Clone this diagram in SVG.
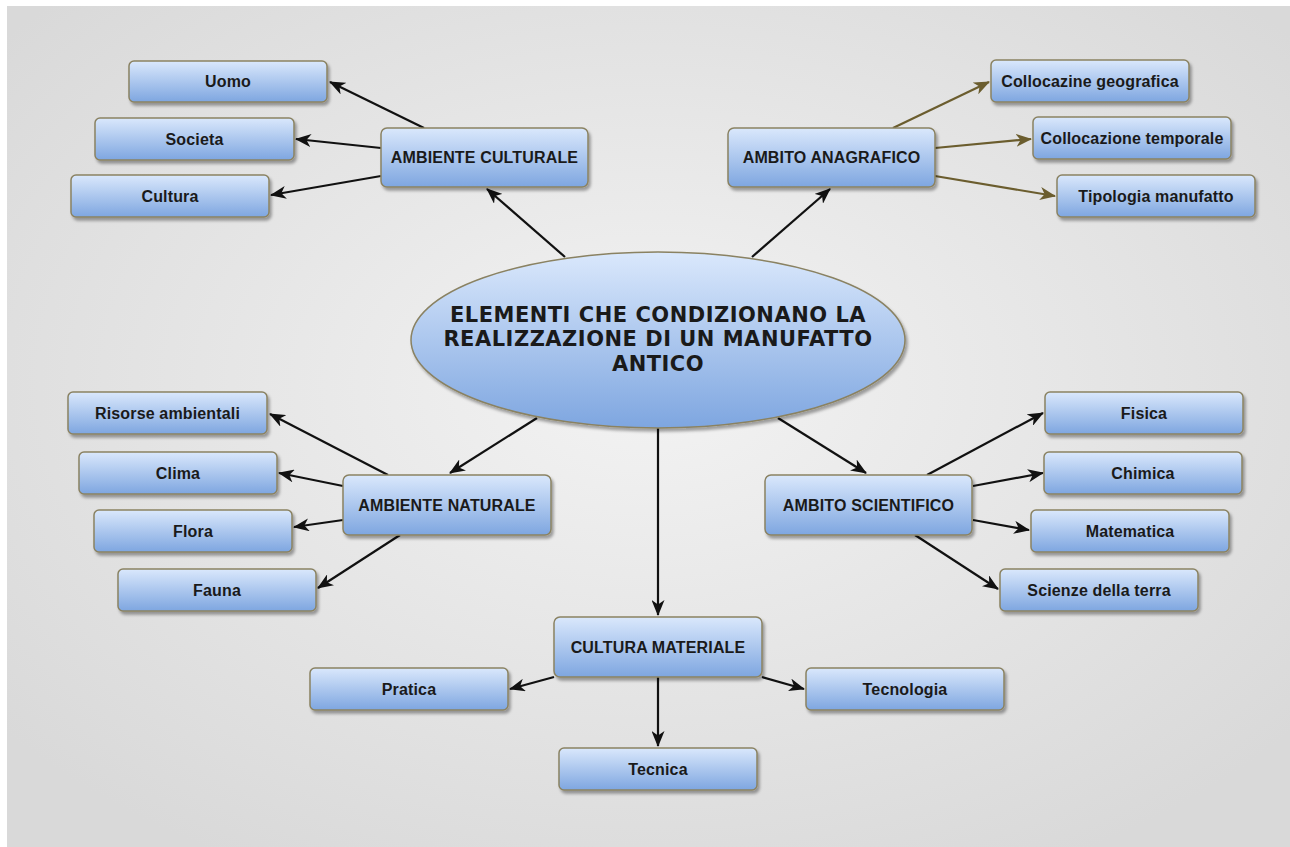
<svg xmlns="http://www.w3.org/2000/svg" width="1290" height="847" viewBox="0 0 1290 847">
<defs>
<radialGradient id="bg" cx="50%" cy="45%" r="65%">
<stop offset="0" stop-color="#f3f3f3"/>
<stop offset="1" stop-color="#d9d9d9"/>
</radialGradient>
<linearGradient id="nodeFill" x1="0" y1="0" x2="0" y2="1">
<stop offset="0" stop-color="#dae8fc"/>
<stop offset="1" stop-color="#7ea6e0"/>
</linearGradient>
<filter id="shadow" x="-10%" y="-20%" width="125%" height="150%">
<feDropShadow dx="2" dy="3" stdDeviation="1.5" flood-color="#000" flood-opacity="0.35"/>
</filter>
<marker id="arrBlack" markerUnits="userSpaceOnUse" viewBox="0 0 16 13" markerWidth="16" markerHeight="13" refX="15" refY="6.5" orient="auto">
<path d="M0,0 L16,6.5 L0,13 L4.5,6.5 z" fill="#111"/>
</marker>
<marker id="arrOlive" markerUnits="userSpaceOnUse" viewBox="0 0 16 13" markerWidth="16" markerHeight="13" refX="15" refY="6.5" orient="auto">
<path d="M0,0 L16,6.5 L0,13 L4.5,6.5 z" fill="#6b5d2e"/>
</marker>
</defs>
<style>
.node rect, .node ellipse { fill: url(#nodeFill); stroke: #8a8262; stroke-width: 1.5; filter: url(#shadow); }
.node text { font-family: "Liberation Sans", Arial, sans-serif; font-weight: bold; font-size: 16px; letter-spacing: 0.15px; fill: #1a1a1a; text-anchor: middle; }
.node text.main { font-family: "DejaVu Sans", Verdana, sans-serif; font-size: 21px; letter-spacing: 0.5px; }
.edge { fill: none; stroke: #111; stroke-width: 2.2; marker-end: url(#arrBlack); }
.edge.olive { stroke: #6b5d2e; marker-end: url(#arrOlive); }
</style>
<rect x="0" y="0" width="1290" height="847" fill="#ffffff"/>
<rect x="7" y="6" width="1283" height="841" fill="url(#bg)"/>

<g id="connectors">
<line class="edge" x1="565" y1="257" x2="487" y2="189"/>
<line class="edge" x1="752" y1="257" x2="830" y2="189"/>
<line class="edge" x1="424" y1="128" x2="330" y2="82"/>
<line class="edge" x1="381" y1="148" x2="296" y2="139"/>
<line class="edge" x1="381" y1="176" x2="271" y2="195"/>
<line class="edge olive" x1="893" y1="128" x2="989" y2="82"/>
<line class="edge olive" x1="935" y1="148" x2="1031" y2="139"/>
<line class="edge olive" x1="935" y1="176" x2="1055" y2="196"/>
<line class="edge" x1="537" y1="418" x2="450" y2="473"/>
<line class="edge" x1="388" y1="475" x2="270" y2="414"/>
<line class="edge" x1="343" y1="486" x2="279" y2="473"/>
<line class="edge" x1="343" y1="520" x2="294" y2="527"/>
<line class="edge" x1="400" y1="535" x2="318" y2="588"/>
<line class="edge" x1="778" y1="418" x2="866" y2="473"/>
<line class="edge" x1="927" y1="475" x2="1043" y2="413"/>
<line class="edge" x1="973" y1="486" x2="1043" y2="473"/>
<line class="edge" x1="973" y1="520" x2="1029" y2="530"/>
<line class="edge" x1="915" y1="535" x2="998" y2="589"/>
<line class="edge" x1="658" y1="428" x2="658" y2="615"/>
<line class="edge" x1="554" y1="677" x2="510" y2="689"/>
<line class="edge" x1="762" y1="677" x2="804" y2="689"/>
<line class="edge" x1="658" y1="677" x2="658" y2="746"/>
</g>

<g id="center" class="node">
<ellipse cx="658" cy="340" rx="247" ry="88"/>
<text class="main" x="658" y="322">ELEMENTI CHE CONDIZIONANO LA</text>
<text class="main" x="658" y="346">REALIZZAZIONE DI UN MANUFATTO</text>
<text class="main" x="658" y="371">ANTICO</text>
</g>

<g id="ambiente-culturale" class="node"><rect x="381" y="128" width="207" height="59" rx="6"/><text x="484.5" y="163">AMBIENTE CULTURALE</text></g>
<g id="uomo" class="node"><rect x="129" y="61" width="198" height="41" rx="5"/><text x="228" y="87">Uomo</text></g>
<g id="societa" class="node"><rect x="95" y="118" width="199" height="42" rx="5"/><text x="194.5" y="145">Societa</text></g>
<g id="cultura" class="node"><rect x="71" y="175" width="198" height="42" rx="5"/><text x="170" y="202">Cultura</text></g>

<g id="ambito-anagrafico" class="node"><rect x="728" y="128" width="207" height="59" rx="6"/><text x="831.5" y="163">AMBITO ANAGRAFICO</text></g>
<g id="collocazine-geografica" class="node"><rect x="991" y="60" width="198" height="42" rx="5"/><text x="1090" y="87">Collocazine geografica</text></g>
<g id="collocazione-temporale" class="node"><rect x="1033" y="117" width="198" height="42" rx="5"/><text x="1132" y="144">Collocazione temporale</text></g>
<g id="tipologia-manufatto" class="node"><rect x="1057" y="175" width="198" height="42" rx="5"/><text x="1156" y="202">Tipologia manufatto</text></g>

<g id="ambiente-naturale" class="node"><rect x="343" y="475" width="208" height="60" rx="6"/><text x="447" y="511">AMBIENTE NATURALE</text></g>
<g id="risorse-ambientali" class="node"><rect x="68" y="392" width="199" height="42" rx="5"/><text x="167.5" y="419">Risorse ambientali</text></g>
<g id="clima" class="node"><rect x="79" y="452" width="198" height="42" rx="5"/><text x="178" y="479">Clima</text></g>
<g id="flora" class="node"><rect x="94" y="510" width="198" height="42" rx="5"/><text x="193" y="537">Flora</text></g>
<g id="fauna" class="node"><rect x="118" y="569" width="198" height="42" rx="5"/><text x="217" y="596">Fauna</text></g>

<g id="ambito-scientifico" class="node"><rect x="765" y="475" width="207" height="60" rx="6"/><text x="868.5" y="511">AMBITO SCIENTIFICO</text></g>
<g id="fisica" class="node"><rect x="1045" y="392" width="198" height="42" rx="5"/><text x="1144" y="419">Fisica</text></g>
<g id="chimica" class="node"><rect x="1044" y="452" width="198" height="42" rx="5"/><text x="1143" y="479">Chimica</text></g>
<g id="matematica" class="node"><rect x="1031" y="510" width="198" height="42" rx="5"/><text x="1130" y="537">Matematica</text></g>
<g id="scienze-della-terra" class="node"><rect x="1000" y="569" width="198" height="42" rx="5"/><text x="1099" y="596">Scienze della terra</text></g>

<g id="cultura-materiale" class="node"><rect x="554" y="617" width="208" height="60" rx="6"/><text x="658" y="653">CULTURA MATERIALE</text></g>
<g id="pratica" class="node"><rect x="310" y="668" width="198" height="42" rx="5"/><text x="409" y="695">Pratica</text></g>
<g id="tecnologia" class="node"><rect x="806" y="668" width="198" height="42" rx="5"/><text x="905" y="695">Tecnologia</text></g>
<g id="tecnica" class="node"><rect x="559" y="748" width="198" height="42" rx="5"/><text x="658" y="775">Tecnica</text></g>
</svg>
